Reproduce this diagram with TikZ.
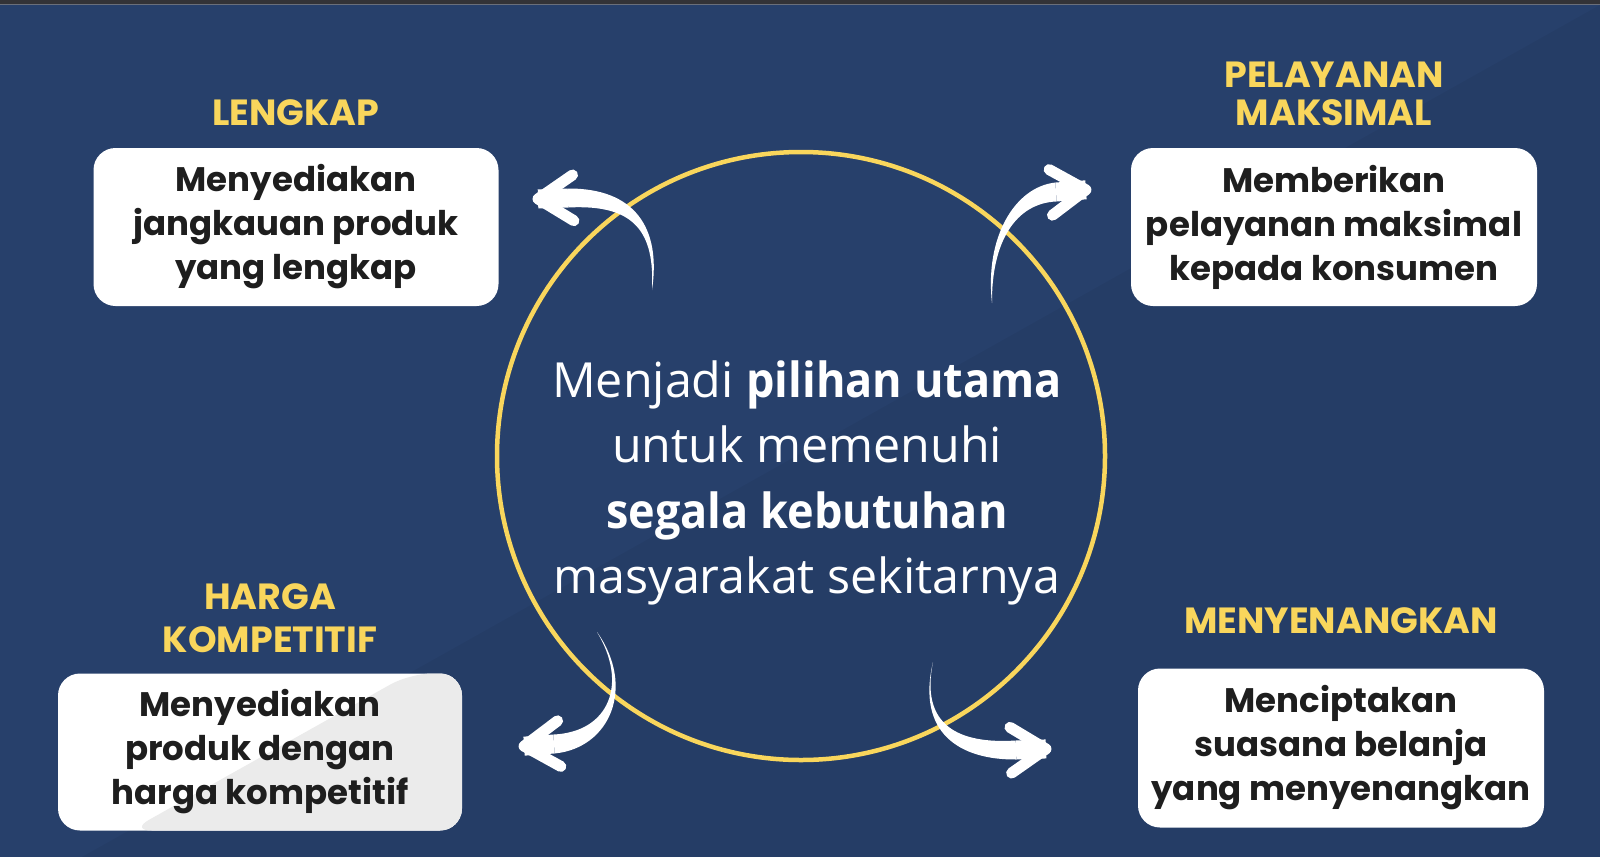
\documentclass[tikz,border=0pt]{standalone}
\usepackage{fontspec}
\usepackage{graphicx}
\setmainfont{Open Sans}
\newfontfamily\headfont{Poppins}
\usetikzlibrary{calc}
\definecolor{navy}{HTML}{27406B}
\definecolor{gold}{HTML}{F9D65C}
\definecolor{ink}{HTML}{1E1E1E}
\definecolor{topbar}{HTML}{333337}
\definecolor{topline}{HTML}{6A6F7A}
\definecolor{boxgray}{HTML}{EBEBEB}
\newcommand\semibf[1]{\scalebox{0.93}[1]{\bfseries #1}}
\newcommand\swoosh[4]{%
  \fill[white] (#1) .. controls ($(#2)!2pt!90:(#3)$) and ($(#3)!4pt!90:(#4)$) .. ($(#4)!4.75pt!-90:(#3)$)
     -- ($(#4)!4.75pt!90:(#3)$) .. controls ($(#3)!4pt!-90:(#4)$) and ($(#2)!2pt!-90:(#3)$) .. (#1) -- cycle;
  \coordinate (tipx) at ($(#4)!15pt!180:(#3)$);
  \draw[white, line width=9.5pt] (#4) -- (tipx);
  \draw[white, line width=5.5pt, line cap=round, line join=round]
     ($(tipx)!21pt!33:(#4)$) -- (tipx) -- ($(tipx)!21pt!-33:(#4)$);
}
\begin{document}
\begin{tikzpicture}[x=0.5pt,y=-0.5pt,
  head/.style={text=gold, font=\headfont\bfseries\fontsize{18.2}{19}\selectfont, align=center, inner sep=0pt},
  card/.style={fill=white, rounded corners=11pt, text=ink, align=center, inner sep=0pt,
    font=\headfont\bfseries\fontsize{17}{22}\selectfont},
  core/.style={text=white, align=center, inner sep=0pt, font=\fontsize{24.2}{32.75}\selectfont}]
\useasboundingbox (0,0) rectangle (1600,857);
\fill[navy] (0,0) rectangle (1600,857);
\fill[black, opacity=0.045] (1600,5) -- (82,857) -- (1600,857) -- cycle;
\fill[topbar] (0,0) rectangle (1600,3.5);
\fill[topline] (0,3.5) rectangle (1600,4.5);

% central circle
\node[circle, draw=gold, line width=2.25pt, minimum size=304pt, inner sep=0pt] (hub) at (801,456) {};
\node[core] (coretext) at (807,483) {Menjadi \semibf{pilihan utama}\\untuk memenuhi\\\semibf{segala kebutuhan}\\masyarakat sekitarnya};

% cards
\node[card, minimum width=202.5pt, minimum height=79pt] (tl) at (296,227) {Menyediakan\\jangkauan produk\\yang lengkap};
\node[card, minimum width=203pt, minimum height=79pt] (tr) at (1334,227) {Memberikan\\pelayanan maksimal\\kepada konsumen};
\node[card, minimum width=202pt, minimum height=78.5pt,
  path picture={\fill[boxgray] ($(path picture bounding box.north east)+(-52,0)$) -- ($(path picture bounding box.south west)+(72,0)$) -- (path picture bounding box.south east) -- (path picture bounding box.north east) -- cycle;}]
  (bl) at (260,752) {Menyediakan\\produk dengan\\harga kompetitif};
\node[card, minimum width=203pt, minimum height=79.5pt] (br) at (1341,748) {Menciptakan\\suasana belanja\\yang menyenangkan};

% headings
\node[head] (htl) at (296,113) {LENGKAP};
\node[head] (htr) at (1334,94) {PELAYANAN\\MAKSIMAL};
\node[head, font=\headfont\bfseries\fontsize{18.2}{21.5}\selectfont] (hbl) at (270,618) {HARGA\\KOMPETITIF};
\node[head] (hbr) at (1341,621) {MENYENANGKAN};

% swoosh arrows
\coordinate (a1) at (652,290); \coordinate (a2) at (658,230); \coordinate (a3) at (635,196); \coordinate (a4) at (568,198);
\swoosh{a1}{a2}{a3}{a4}
\coordinate (b1) at (992,303); \coordinate (b2) at (988,240); \coordinate (b3) at (1015,195); \coordinate (b4) at (1056,192);
\swoosh{b1}{b2}{b3}{b4}
\coordinate (c1) at (597,632); \coordinate (c2) at (632,685); \coordinate (c3) at (610,740); \coordinate (c4) at (554,744);
\swoosh{c1}{c2}{c3}{c4}
\coordinate (d1) at (933,662); \coordinate (d2) at (918,730); \coordinate (d3) at (960,752); \coordinate (d4) at (1016,750);
\swoosh{d1}{d2}{d3}{d4}
\end{tikzpicture}
\end{document}
